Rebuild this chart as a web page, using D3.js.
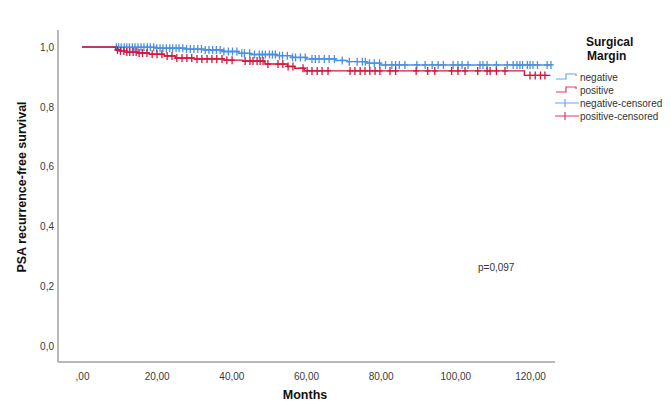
<!DOCTYPE html>
<html>
<head>
<meta charset="utf-8">
<script src="https://cdn.jsdelivr.net/npm/d3@7/dist/d3.min.js"></script>
<style>
  body { margin: 0; background: #fff; }
  svg { display: block; font-family: "Liberation Sans", Arial, sans-serif; }
</style>
</head>
<body>
<div id="chart"></div>
<script>
// Kaplan-Meier steps: [months, survival]
const negativeSteps = [
    [0, 1], [9, 0.999], [20, 0.996], [28, 0.993], [33, 0.99], [38, 0.985],
    [42, 0.979], [45, 0.975], [52, 0.971], [56, 0.965], [60, 0.96],
    [68, 0.955], [71, 0.951], [76, 0.946], [80, 0.94], [126, 0.94]
];
const positiveSteps = [
    [0, 1], [9, 0.99], [10, 0.987], [12, 0.983], [15, 0.98], [18, 0.976],
    [22, 0.97], [25, 0.963], [30, 0.96], [38, 0.956], [43, 0.953],
    [49, 0.943], [55, 0.935], [57, 0.929], [59.5, 0.92], [118.5, 0.905], [125.5, 0.905]
];

// censoring times (months)
const negativeCensored = [
    9.2, 9.8, 10.5, 11.3, 12, 12.7, 13.5, 14.2, 15, 15.8, 16.6, 17.5, 18.3, 19.2, 20,
    20.9, 21.7, 22.6, 23.5, 24.3, 25.2, 26, 27, 28, 29, 30, 31, 32, 33, 34, 35, 36, 37,
    38, 39.2, 40.3, 41.5, 42.8, 43.5, 44.9, 46.2, 47.5, 48.3, 49.1, 50.2, 51, 51.8, 52.9,
    53.7, 55, 56.4, 57.2, 58.5, 59.8, 61.6, 62.5, 63.5, 64.9, 66.2, 67.6, 69.7, 71.6,
    73.7, 75.1, 75.9, 77, 78.3, 79.7, 81.3, 83, 84, 85, 86.5, 89.7, 91.9, 93.8, 95.4,
    96.8, 99.4, 100.7, 101.8, 103.4, 106.6, 107.4, 108.5, 111, 113.9, 115.5, 116.5,
    117.3, 118, 119.3, 120, 120.8, 122, 124.6, 125.6
];
const positiveCensored = [
    9.5, 10.3, 11.2, 12, 12.8, 13.7, 14.5, 15.3, 16.2, 17.4, 18.8, 20.1, 21.4, 22.8,
    24.1, 25.4, 26.8, 28.1, 29.4, 30.8, 32.1, 33.5, 34.8, 36.1, 37.5, 38.8, 40.2, 43.7,
    45, 45.8, 46.9, 47.7, 48.5, 49.8, 52.5, 53.8, 55.2, 56.5, 59.2, 60.3, 61.6, 63, 64.3,
    65.9, 71.8, 73.1, 74.5, 75.8, 77.1, 78.5, 79.8, 82.5, 84, 89.5, 92.6, 94.5, 99,
    100.7, 102.6, 106, 108.5, 109.3, 111, 113.3, 120, 121.4, 122.8, 124
];

const xTicks = [0, 20, 40, 60, 80, 100, 120];
const yTicks = [0, 0.2, 0.4, 0.6, 0.8, 1.0];
const legendItems = [
    { label: 'negative', key: 'neg', type: 'step' },
    { label: 'positive', key: 'pos', type: 'step' },
    { label: 'negative-censored', key: 'neg', type: 'cens' },
    { label: 'positive-censored', key: 'pos', type: 'cens' }
];

const colors = { neg: '#4a90e2', pos: '#d4163c' };
const legendColors = { neg: '#6fa3e6', pos: '#e03c5c' };
const fmt = d3.format('.2f');
const comma = s => s.replace('.', ',');

const W = 671, H = 401;
const svg = d3.select('#chart').append('svg')
    .attr('width', W)
    .attr('height', H);

const x = d3.scaleLinear().domain([0, 120]).range([82, 530]);
const y = d3.scaleLinear().domain([0, 1]).range([346, 47]);

// axis lines (SPSS style, no ticks)
svg.append('line')
    .attr('x1', 58).attr('x2', 58).attr('y1', 30).attr('y2', 362)
    .attr('stroke', '#a0a0a0').attr('stroke-width', 1.5);
svg.append('line')
    .attr('x1', 58).attr('x2', 555).attr('y1', 362).attr('y2', 362)
    .attr('stroke', '#a0a0a0').attr('stroke-width', 1.5);

const xAxis = svg.append('g')
    .attr('transform', 'translate(0,377)')
    .call(d3.axisBottom(x).tickValues(xTicks).tickSize(0)
        .tickFormat(d => d === 0 ? ',00' : comma(fmt(d))));
const yAxis = svg.append('g')
    .attr('transform', 'translate(54,0)')
    .call(d3.axisLeft(y).tickValues(yTicks).tickSize(0)
        .tickFormat(d => comma(d3.format('.1f')(d))));
[xAxis, yAxis].forEach(a => {
    a.select('.domain').remove();
    a.selectAll('text')
        .attr('fill', '#3a3a3a')
        .style('font-size', '10px')
        .style('font-family', '"Liberation Sans", Arial, sans-serif');
});
xAxis.selectAll('text').attr('dy', '0');
yAxis.selectAll('text').attr('x', 0).attr('dy', '0.32em');

// survival curves
const line = d3.line()
    .x(d => x(d[0]))
    .y(d => y(d[1]))
    .curve(d3.curveStepAfter);

function stepValue(steps, t) {
    let v = steps[0][1];
    steps.forEach(s => { if (s[0] <= t) v = s[1]; });
    return v;
}

function drawGroup(steps, censored, color) {
    const g = svg.append('g');
    g.append('path')
        .datum(steps)
        .attr('d', line)
        .attr('fill', 'none')
        .attr('stroke', color)
        .attr('stroke-width', 1.4);
    g.selectAll('.cens')
        .data(censored)
        .enter()
        .append('path')
        .attr('class', 'cens')
        .attr('transform', d => `translate(${x(d)},${y(stepValue(steps, d))})`)
        .attr('d', 'M0,-4V4M-3,0H3')
        .attr('stroke', color)
        .attr('stroke-width', 1.3)
        .attr('fill', 'none');
}

drawGroup(negativeSteps, negativeCensored, colors.neg);
drawGroup(positiveSteps, positiveCensored, colors.pos);

// axis titles
svg.append('text')
    .attr('x', 305).attr('y', 399)
    .attr('text-anchor', 'middle')
    .style('font-size', '12.5px')
    .style('font-weight', 'bold')
    .attr('fill', '#111')
    .text('Months');
svg.append('text')
    .attr('transform', 'translate(26,187) rotate(-90)')
    .attr('text-anchor', 'middle')
    .style('font-size', '12.5px')
    .style('font-weight', 'bold')
    .attr('fill', '#111')
    .text('PSA recurrence-free survival');

svg.append('text')
    .attr('x', 478).attr('y', 271)
    .style('font-size', '10px')
    .attr('fill', '#333')
    .text('p=0,097');

// legend
const legend = svg.append('g').attr('transform', 'translate(555,0)');
legend.append('text')
    .attr('x', 31).attr('y', 46)
    .style('font-size', '12px').style('font-weight', 'bold').attr('fill', '#111')
    .text('Surgical');
legend.append('text')
    .attr('x', 32).attr('y', 59.5)
    .style('font-size', '12px').style('font-weight', 'bold').attr('fill', '#111')
    .text('Margin');

const item = legend.selectAll('.legend-item')
    .data(legendItems)
    .enter()
    .append('g')
    .attr('class', 'legend-item')
    .attr('transform', (d, i) => `translate(0,${77 + i * 13})`);

item.append('path')
    .attr('d', d => d.type === 'step'
        ? 'M1,2H11V-3H21V-1'
        : 'M0,0H24M10,-4V4')
    .attr('fill', 'none')
    .attr('stroke', d => legendColors[d.key])
    .attr('stroke-width', 1.2);

item.append('text')
    .attr('x', 25).attr('y', 0).attr('dy', '0.35em')
    .style('font-size', '10px')
    .attr('fill', '#333')
    .text(d => d.label);
</script>
</body>
</html>
